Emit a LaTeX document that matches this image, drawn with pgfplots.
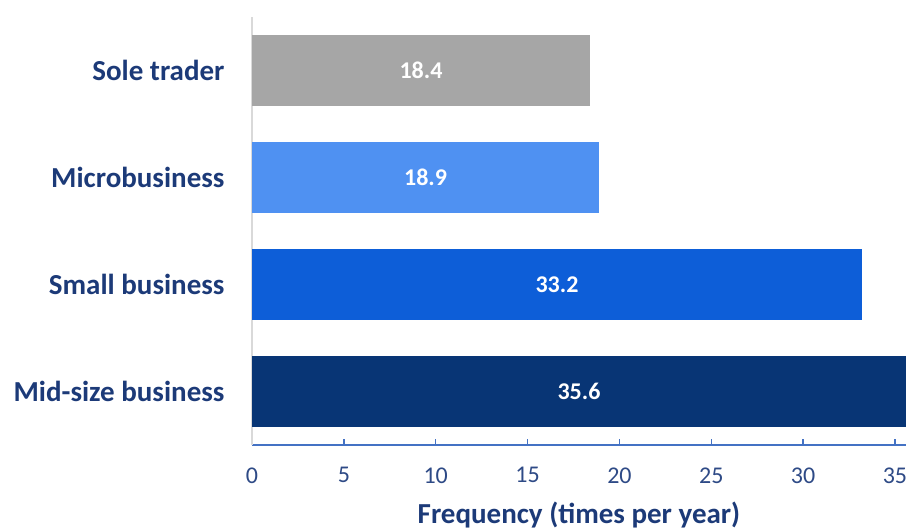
\documentclass[border=0pt]{standalone}
\usepackage{fontspec}
\setmainfont{Carlito}
\usepackage{pgfplots}
\pgfplotsset{compat=1.18}
\definecolor{cGray}{RGB}{166,166,166}
\definecolor{cLight}{RGB}{79,145,242}
\definecolor{cMid}{RGB}{13,94,216}
\definecolor{cDark}{RGB}{8,53,117}
\definecolor{cNavy}{RGB}{28,58,120}
\definecolor{cTick}{RGB}{46,74,134}
\definecolor{cAxis}{RGB}{68,114,196}
\definecolor{cYax}{RGB}{217,217,217}
\begin{document}
\begin{tikzpicture}
\begin{axis}[
  at={(252pt,-445pt)}, anchor=south west,
  scale only axis, width=654pt, height=428pt,
  xbar, bar width=71pt, bar shift=0pt,
  xmin=0, xmax=35.6,
  ymin=-0.5, ymax=3.5, y dir=reverse,
  ytick={0,1,2,3},
  yticklabels={Sole trader,Microbusiness,Small business,Mid-size business},
  xtick={0,5,...,35},
  axis x line*=bottom, axis y line*=left,
  x axis line style={draw=cAxis, line width=1.5pt},
  y axis line style={draw=cYax, line width=2pt},
  xtick style={draw=cAxis, line width=1.5pt},
  major tick length=6pt, tick align=inside,
  ytick style={draw=none},
  /pgf/number format/assume math mode=true,
  xticklabel style={font=\fontsize{24}{28}\selectfont, text=cTick, yshift=-19pt},
  yticklabel style={font=\bfseries\fontsize{29}{34}\selectfont, text=cNavy, xshift=-24pt},
  xlabel={Frequency (times per year)},
  xlabel style={font=\bfseries\fontsize{29}{34}\selectfont, text=cNavy, inner sep=0pt, yshift=-15pt},
  nodes near coords,
  visualization depends on=x \as \rawx,
  every node near coord/.append style={font=\bfseries\fontsize{24}{28}\selectfont, text=white, anchor=center,
    shift={(axis direction cs:-\rawx/2,0)}},
  nodes near coords={\pgfmathprintnumber[fixed,precision=1,fixed zerofill]{\pgfplotspointmeta}},
  point meta=x,
  clip=false,
]
\addplot[fill=cGray, draw=none] coordinates {(18.4,0)};
\addplot[fill=cLight, draw=none] coordinates {(18.9,1)};
\addplot[fill=cMid, draw=none] coordinates {(33.2,2)};
\addplot[fill=cDark, draw=none] coordinates {(35.6,3)};
\end{axis}
\pgfresetboundingbox
\path[use as bounding box] (0,0) rectangle (908pt,-530pt);
\end{tikzpicture}
\end{document}
